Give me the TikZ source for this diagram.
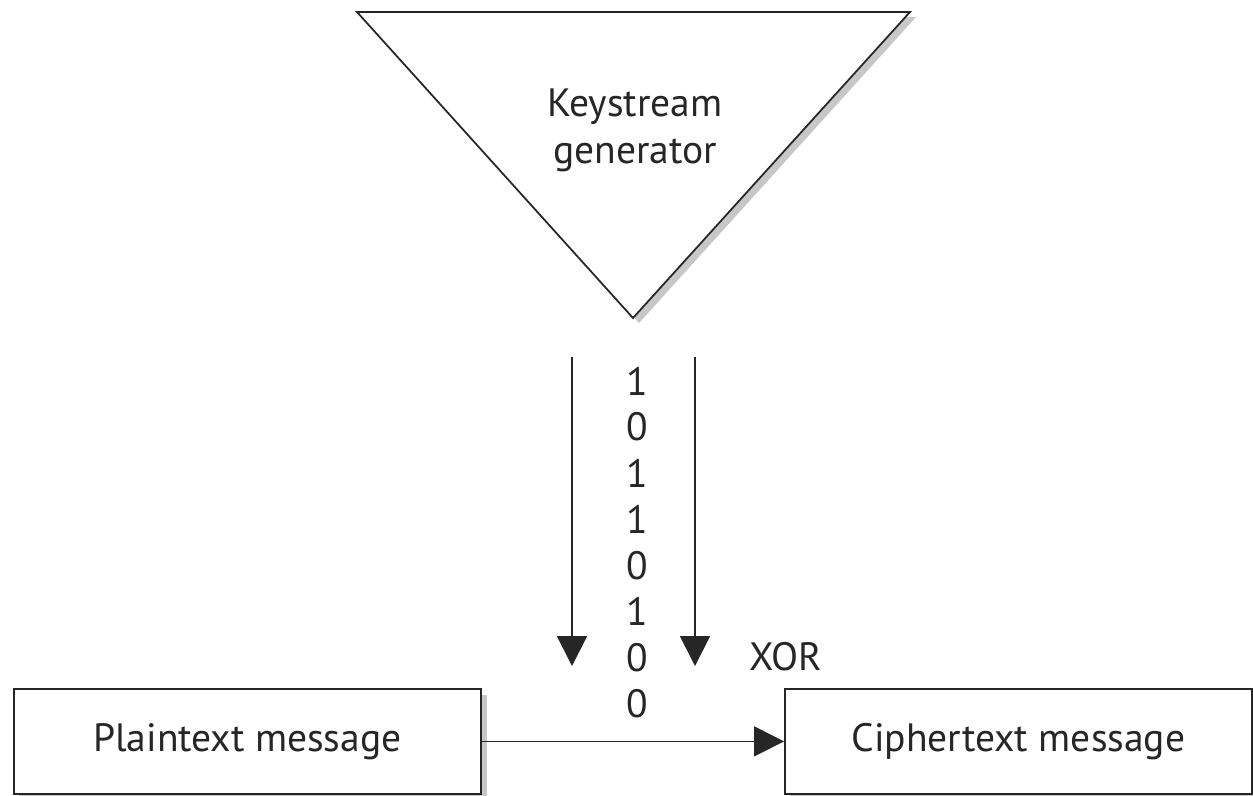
\documentclass[tikz,border=0pt]{standalone}
\usepackage{fontspec}
\setmainfont{PT Sans}
\usetikzlibrary{arrows.meta}
\begin{document}
\begin{tikzpicture}[x=0.02cm,y=-0.02cm,
  lbl/.style={font=\fontsize{22.5}{26.7}\selectfont, text=black!85},
  edge/.style={draw=black!85, line width=1pt},
  msgbox/.style={edge, fill=white, minimum width=467*0.02cm, minimum height=105*0.02cm, inner sep=0pt},
  flow/.style={edge, -{Triangle[width=17pt,length=17pt]}}
]
\useasboundingbox (0,0) rectangle (1253,795);
% triangle
\coordinate (tl) at (357,12);
\coordinate (tr) at (910,12);
\coordinate (ap) at (633,318);
\fill[black!22] ([shift={(6,5)}]tl) -- ([shift={(6,5)}]tr) -- ([shift={(6,5)}]ap) -- cycle;
\filldraw[fill=white, draw=black!85, line width=1pt, line join=miter] (tl) -- (tr) -- (ap) -- cycle;
\draw[black!85, line width=1.6pt] (tl) -- (tr);
\node[lbl, align=center] (gen) at (635,130) {Keystream\\generator};
% boxes
\fill[black!22] (19,695) rectangle (487,800);
\node[msgbox, anchor=north west] (plain) at (13,688) {};
\node[lbl] at (plain.center) {Plaintext message};
\fill[black!22] (790,695) rectangle (1257,800);
\node[msgbox, anchor=north west] (ciph) at (784,688) {};
\node[lbl] at (ciph.center) {Ciphertext message};
\draw[flow] (plain.east) -- (ciph.west);
% keystream arrows
\coordinate (la) at (572,357);
\coordinate (lb) at (572,666);
\coordinate (ra) at (695,357);
\coordinate (rb) at (695,666);
\draw[flow] (la) -- (lb);
\draw[flow] (ra) -- (rb);
% bits
\foreach \b [count=\i from 0] in {1,0,1,1,0,1,0,0}
  \node[lbl] (bit\i) at (637,{381+46.1*\i}) {\b};
\node[lbl, anchor=west] (xor) at (743,657) {XOR};
\end{tikzpicture}
\end{document}
